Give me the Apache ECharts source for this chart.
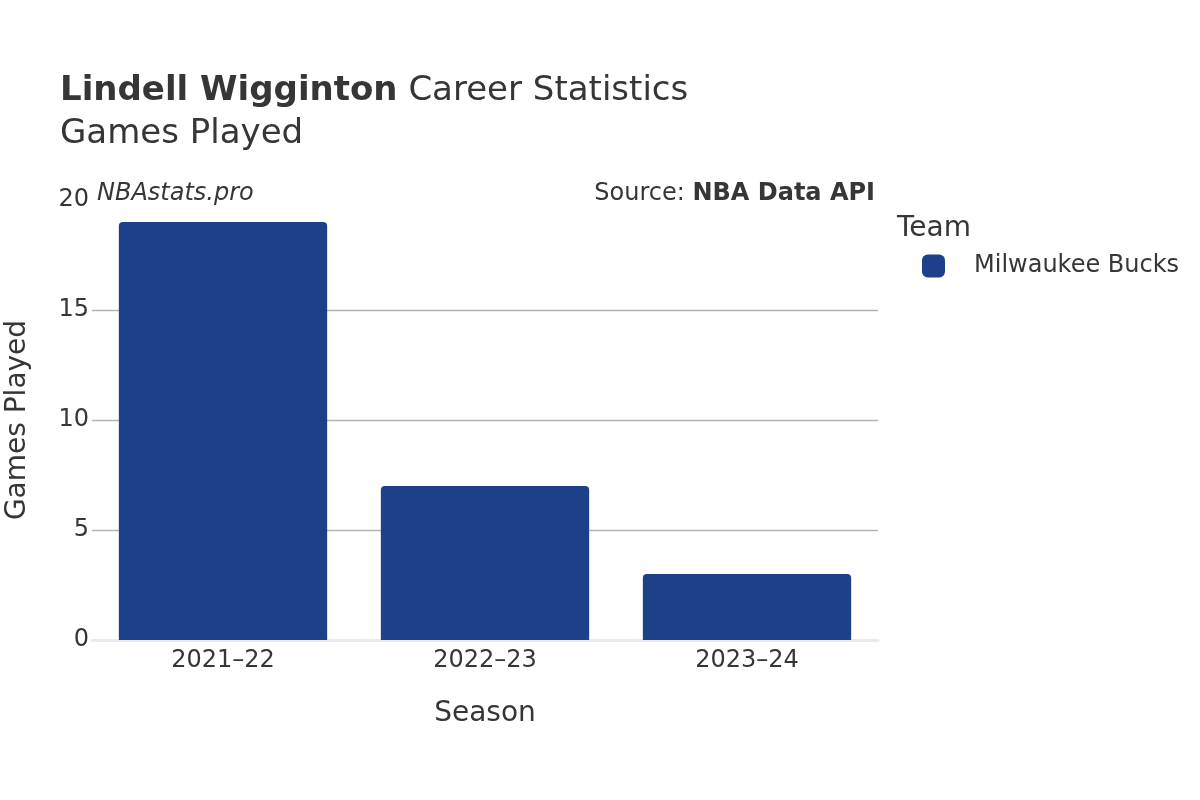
<!DOCTYPE html>
<html>
<head>
<meta charset="utf-8">
<script src="https://cdn.jsdelivr.net/npm/echarts@6/dist/echarts.min.js"></script>
<style>
  html, body { margin: 0; padding: 0; background: #fff; }
  #chart { width: 1200px; height: 800px; }
</style>
</head>
<body>
<div id="chart"></div>
<script>
// data
var seasons = ['2021\u201322', '2022\u201323', '2023\u201324'];
var gamesPlayed = [19, 7, 3];
var teamName = 'Milwaukee Bucks';
var yTicks = [0, 5, 10, 15, 20];

var FONT = 'DejaVu Sans';
var TXT = '#363636';
var BAR = '#1c4189';
var GRIDC = '#b4b4b4';

var chart = echarts.init(document.getElementById('chart'));

var option = {
    backgroundColor: '#fff',
    animation: false,
    textStyle: { fontFamily: FONT, color: TXT },
    title: [{
        left: 55, top: 69,
        text: '{b|Lindell Wigginton} Career Statistics',
        textStyle: {
            fontFamily: FONT, fontSize: 34, color: TXT, fontWeight: 'normal',
            rich: { b: { fontFamily: FONT, fontSize: 34, fontWeight: 'bold', color: TXT } }
        }
    }, {
        left: 55, top: 112,
        text: 'Games Played',
        textStyle: { fontFamily: FONT, fontSize: 34, color: TXT, fontWeight: 'normal' }
    }],
    graphic: [{
        type: 'text', left: 97, top: 182,
        style: { text: 'NBAstats.pro', font: 'italic 24px "DejaVu Sans"', fill: TXT }
    }, {
        type: 'text', right: 325, top: 182,
        style: {
            text: '{n|Source: }{b|NBA Data API}',
            rich: {
                n: { fontFamily: FONT, fontSize: 24, fill: TXT },
                b: { fontFamily: FONT, fontSize: 24, fontWeight: 'bold', fill: TXT }
            }
        }
    }, {
        type: 'text', left: 897, top: 215,
        style: { text: 'Team', font: '28px "DejaVu Sans"', fill: TXT }
    }],
    legend: {
        left: 917, top: 249,
        itemWidth: 23, itemHeight: 23, itemGap: 10,
        icon: 'roundRect',
        textStyle: { fontFamily: FONT, fontSize: 24, color: TXT, padding: [5, 0, 0, 24] },
        data: [teamName]
    },
    grid: { left: 92, right: 322, top: 200, bottom: 160, outerBoundsMode: 'none', containLabel: false },
    xAxis: {
        type: 'category',
        data: seasons,
        name: 'Season',
        nameLocation: 'middle',
        nameGap: 60,
        nameTextStyle: { fontFamily: FONT, fontSize: 28, color: TXT },
        axisLine: { show: true, lineStyle: { color: '#ebebeb', width: 3 } },
        axisTick: { show: false },
        axisLabel: { fontFamily: FONT, fontSize: 24, color: TXT, margin: 9 }
    },
    yAxis: {
        type: 'value',
        min: yTicks[0],
        max: yTicks[yTicks.length - 1],
        interval: 5,
        name: 'Games Played',
        nameLocation: 'middle',
        nameGap: 60,
        nameTextStyle: { fontFamily: FONT, fontSize: 28, color: TXT },
        axisLine: { show: false },
        axisTick: { show: false },
        axisLabel: { fontFamily: FONT, fontSize: 24, color: TXT, margin: 3 },
        splitLine: { lineStyle: { color: [GRIDC, GRIDC, GRIDC, GRIDC, 'rgba(0,0,0,0)'], width: 1.3 } }
    },
    series: [{
        name: teamName,
        type: 'bar',
        data: gamesPlayed,
        barCategoryGap: '20.5%',
        itemStyle: { color: BAR, borderRadius: [4, 4, 0, 0] }
    }]
};

chart.setOption(option);
</script>
</body>
</html>
